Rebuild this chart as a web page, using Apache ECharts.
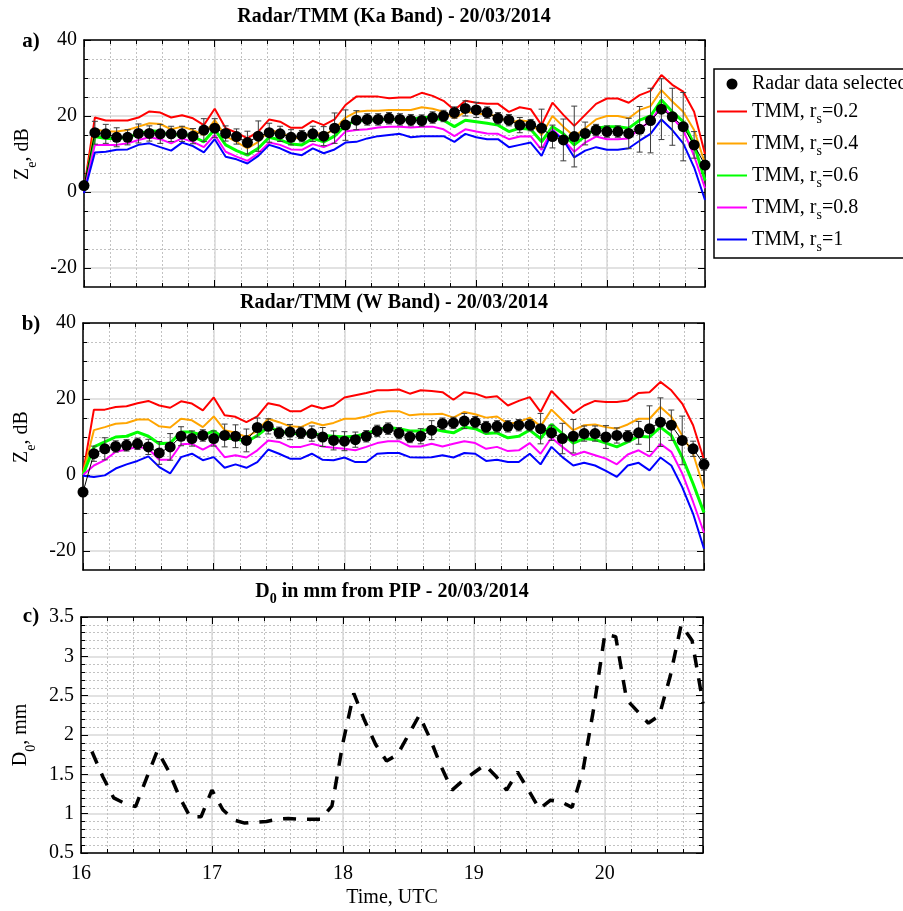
<!DOCTYPE html>
<html><head><meta charset="utf-8">
<script src="https://cdn.jsdelivr.net/npm/echarts@6/dist/echarts.min.js"></script>
<style>html,body{margin:0;padding:0;background:#fff}#c{width:903px;height:911px}</style>
</head><body><div id="c"></div>
<script>
// ---------------- DATA ----------------
const times = [
 '16:00','16:05','16:10','16:15','16:20','16:25','16:30','16:35','16:40','16:45','16:50','16:55',
 '17:00','17:05','17:10','17:15','17:20','17:25','17:30','17:35','17:40','17:45','17:50','17:55',
 '18:00','18:05','18:10','18:15','18:20','18:25','18:30','18:35','18:40','18:45','18:50','18:55',
 '19:00','19:05','19:10','19:15','19:20','19:25','19:30','19:35','19:40','19:45','19:50','19:55',
 '20:00','20:05','20:10','20:15','20:20','20:25','20:30','20:35','20:40','20:45'
];
const rsValues = ['0.2','0.4','0.6','0.8','1'];

// Panel a) Ka band
const kaRadar = [
 1.7, 15.6, 15.3, 14.4, 14.4, 15.4, 15.4, 15.3, 15.3, 15.3, 14.7, 16.3,
 16.8, 15.4, 14.6, 13.0, 14.7, 15.6, 15.3, 14.4, 14.7, 15.3, 14.7, 16.8,
 17.6, 18.9, 19.1, 19.1, 19.4, 19.1, 18.9, 18.8, 19.6, 20.0, 20.9, 22.0,
 21.6, 20.9, 19.4, 18.9, 17.6, 17.6, 16.8, 14.6, 13.7, 14.6, 15.4, 16.3,
 15.9, 15.9, 15.4, 16.5, 18.8, 21.8, 19.8, 17.2, 12.4, 7.1
];
const kaErr = [
 0.5, 3.0, 2.5, 2.5, 2.0, 2.5, 2.0, 2.5, 2.0, 2.0, 2.0, 3.0,
 2.5, 2.0, 2.0, 3.0, 4.0, 2.5, 2.0, 2.0, 1.5, 2.0, 2.5, 4.0,
 4.0, 2.5, 1.5, 1.5, 1.5, 1.5, 1.5, 1.5, 1.5, 1.5, 1.5, 2.0,
 2.0, 1.5, 1.5, 1.5, 2.0, 1.5, 5.0, 3.0, 5.5, 8.0, 3.0, 1.5,
 1.5, 1.5, 4.0, 6.0, 8.5, 8.0, 7.5, 9.0, 3.5, 1.0
];
const kaR02 = [
 0.8, 19.6, 18.8, 18.8, 18.8, 19.6, 21.2, 20.9, 19.6, 20.2, 19.4, 17.6,
 21.9, 16.8, 15.6, 14.1, 15.9, 19.1, 18.5, 16.9, 16.9, 18.7, 17.6, 19.1,
 22.9, 25.1, 25.1, 25.1, 24.7, 24.9, 24.9, 26.1, 25.3, 24.0, 21.6, 24.0,
 23.5, 23.2, 23.2, 21.1, 22.3, 21.8, 17.6, 23.5, 20.3, 17.4, 20.3, 23.2,
 24.6, 24.6, 23.5, 25.5, 26.6, 30.8, 28.2, 26.4, 21.1, 10.0
];
const kaR04 = [
 0.5, 16.5, 15.9, 15.9, 16.3, 17.2, 18.1, 17.9, 16.5, 17.2, 16.3, 15.0,
 18.9, 14.7, 13.2, 11.5, 13.2, 16.3, 15.6, 14.4, 14.1, 15.9, 15.0, 16.5,
 19.6, 21.1, 21.4, 21.4, 21.6, 21.6, 21.6, 22.3, 21.9, 21.1, 19.4, 21.1,
 20.7, 20.3, 20.0, 18.1, 18.9, 18.5, 15.0, 20.0, 17.2, 14.6, 16.8, 19.1,
 20.0, 20.0, 19.4, 21.6, 22.6, 26.8, 23.8, 21.1, 16.3, 7.5
];
const kaR06 = [
 0.3, 14.6, 14.1, 14.1, 14.4, 15.3, 16.1, 15.9, 14.7, 15.4, 14.6, 13.2,
 16.5, 12.4, 10.9, 9.7, 11.5, 14.4, 13.7, 12.6, 12.4, 14.1, 13.2, 14.7,
 17.6, 18.8, 18.9, 19.1, 19.1, 19.1, 19.1, 19.6, 19.6, 18.9, 17.2, 18.9,
 18.5, 18.1, 17.6, 15.9, 16.8, 16.5, 13.2, 17.2, 15.3, 12.4, 14.7, 16.8,
 17.2, 17.2, 16.8, 18.9, 20.0, 24.2, 21.1, 18.5, 12.5, 3.0
];
const kaR08 = [
 0.1, 12.4, 12.4, 12.4, 12.8, 13.7, 14.4, 13.9, 12.8, 14.1, 13.2, 11.8,
 15.0, 10.6, 9.3, 8.2, 10.2, 13.0, 12.4, 11.2, 11.1, 12.6, 11.8, 13.0,
 15.9, 16.3, 16.5, 17.0, 17.2, 17.2, 17.0, 17.2, 17.2, 16.5, 14.7, 16.5,
 15.9, 15.4, 15.3, 13.9, 14.6, 14.7, 11.1, 16.5, 13.7, 10.6, 13.0, 14.6,
 13.9, 13.9, 14.1, 16.8, 18.5, 22.9, 19.6, 16.3, 9.5, 1.0
];
const kaR1 = [
 -0.3, 10.4, 10.6, 11.1, 11.2, 12.4, 12.8, 11.8, 10.9, 13.0, 12.1, 10.4,
 13.9, 9.3, 8.6, 7.5, 9.5, 12.4, 11.5, 10.2, 9.7, 11.5, 10.2, 11.2,
 13.0, 13.2, 14.1, 14.7, 15.0, 15.3, 14.4, 14.7, 14.7, 14.7, 13.2, 15.3,
 14.4, 13.9, 13.9, 11.8, 12.4, 13.0, 9.5, 16.1, 13.7, 9.1, 10.9, 11.8,
 11.1, 11.1, 11.5, 13.5, 15.3, 19.1, 16.3, 12.8, 6.5, -2.1
];

// Panel b) W band
const wRadar = [
 -4.5, 5.6, 6.9, 7.5, 7.8, 8.2, 7.4, 5.8, 7.4, 10.2, 9.6, 10.4,
 9.6, 10.4, 10.2, 9.1, 12.5, 12.8, 11.1, 11.3, 11.1, 10.9, 10.0, 9.1,
 8.9, 9.3, 10.2, 11.6, 12.2, 11.0, 10.0, 10.2, 11.8, 13.5, 13.7, 14.2,
 13.9, 12.6, 12.8, 12.8, 13.1, 13.1, 12.2, 11.1, 9.6, 10.2, 10.9, 10.9,
 10.0, 10.4, 10.2, 11.1, 12.2, 13.9, 13.1, 9.1, 6.9, 2.8
];
const wErr = [
 1.0, 2.0, 2.9, 1.5, 1.5, 1.5, 2.0, 3.0, 3.5, 2.5, 2.0, 1.5,
 2.0, 3.0, 3.0, 3.0, 2.5, 2.0, 1.5, 2.0, 1.5, 2.0, 2.5, 2.5,
 2.5, 2.0, 1.5, 1.5, 1.5, 1.5, 1.5, 2.0, 2.5, 1.5, 1.5, 2.0,
 1.5, 1.5, 1.5, 1.5, 1.5, 1.5, 4.0, 2.0, 4.0, 4.4, 2.0, 2.0,
 3.0, 2.0, 1.5, 3.0, 6.0, 6.4, 4.0, 6.4, 2.0, 1.5
];
const wR02 = [
 0.5, 17.2, 17.2, 17.9, 18.1, 18.9, 19.5, 18.3, 17.7, 19.4, 18.8, 17.0,
 20.4, 15.7, 15.3, 13.9, 15.4, 18.9, 18.3, 16.8, 16.8, 18.3, 17.5, 18.3,
 20.4, 21.0, 21.6, 22.3, 22.3, 22.5, 21.4, 22.3, 22.1, 21.8, 19.8, 21.8,
 21.4, 20.4, 20.7, 18.3, 19.5, 20.5, 16.6, 22.1, 19.2, 16.3, 18.3, 19.5,
 19.2, 19.2, 19.6, 21.6, 21.8, 24.5, 22.3, 18.8, 13.1, 4.0
];
const wR04 = [
 0.3, 11.8, 12.6, 13.5, 13.7, 14.6, 14.6, 12.8, 12.5, 14.8, 14.4, 12.6,
 15.4, 11.8, 11.1, 10.0, 11.6, 14.8, 13.9, 12.8, 12.6, 13.9, 13.1, 13.7,
 14.8, 14.8, 15.4, 16.3, 16.8, 16.8, 15.7, 16.0, 16.0, 16.1, 15.1, 16.6,
 16.0, 15.1, 15.4, 13.5, 13.9, 15.1, 12.8, 17.2, 14.4, 11.8, 13.1, 13.3,
 12.6, 12.2, 13.3, 14.8, 14.8, 17.9, 15.3, 10.4, 5.6, -3.6
];
const wR06 = [
 0.0, 7.4, 8.7, 10.0, 10.2, 11.3, 10.2, 8.2, 8.4, 11.3, 11.3, 10.4,
 11.6, 9.6, 9.6, 8.7, 10.4, 12.6, 11.6, 10.9, 10.9, 10.9, 10.4, 10.2,
 10.0, 10.2, 10.9, 11.9, 12.5, 12.2, 11.6, 11.6, 12.2, 11.6, 11.1, 12.6,
 12.2, 10.9, 11.1, 9.8, 10.2, 11.8, 9.6, 13.3, 10.9, 8.4, 9.6, 9.3,
 8.4, 7.4, 8.7, 10.2, 10.0, 12.6, 10.4, 4.7, -2.3, -9.9
];
const wR08 = [
 0.0, 2.5, 3.9, 6.1, 6.7, 7.4, 6.9, 4.0, 4.0, 8.1, 8.2, 6.7,
 8.2, 4.7, 5.2, 4.6, 6.5, 9.1, 8.7, 7.4, 7.4, 8.2, 7.5, 7.2,
 6.9, 6.5, 7.4, 8.4, 8.9, 8.9, 7.5, 7.5, 8.2, 7.5, 8.2, 8.9,
 8.4, 6.9, 7.4, 6.3, 6.5, 8.4, 5.6, 9.8, 7.4, 5.2, 6.1, 5.2,
 4.3, 2.8, 5.4, 6.5, 4.9, 8.2, 6.1, 0.4, -7.1, -15.2
];
const wR1 = [
 -0.2, -0.5, -0.1, 1.7, 2.8, 3.7, 4.9, 2.1, 0.4, 4.7, 5.6, 3.9,
 4.7, 1.9, 2.8, 1.9, 3.4, 6.7, 5.6, 4.3, 4.3, 5.6, 4.0, 3.9,
 4.6, 3.4, 3.4, 5.6, 5.8, 5.8, 4.7, 4.6, 4.7, 5.2, 4.6, 5.8,
 5.6, 3.7, 4.0, 3.4, 3.4, 5.6, 2.8, 7.4, 4.7, 2.5, 3.2, 2.5,
 1.1, -0.5, 2.5, 3.2, 1.2, 4.6, 2.5, -3.2, -10.2, -19.4
];

// Panel c) D0 from PIP (mm)
const d0 = [
 null, 1.79, 1.47, 1.2, 1.13, 1.09, 1.45, 1.8, 1.55, 1.22, 0.96, 0.96,
 1.3, 1.05, 0.92, 0.88, 0.89, 0.9, 0.93, 0.94, 0.93, 0.93, 0.93, 1.1,
 1.9, 2.53, 2.18, 1.88, 1.67, 1.75, 2.0, 2.25, 1.95, 1.6, 1.3, 1.42,
 1.52, 1.62, 1.48, 1.3, 1.53, 1.3, 1.06, 1.17, 1.15, 1.08, 1.55, 2.35,
 3.28, 3.25, 2.45, 2.3, 2.15, 2.25, 2.75, 3.4, 3.2, 2.4
];

// ---------------- CHART ----------------
const FONT = 'Liberation Serif';
const GRID_COLOR = '#d8d8d8';
const DOT_COLOR = '#c2c2c2';
const tmmColors = ['#ff0000', '#ffa500', '#00ff00', '#ff00ff', '#0000ff'];
const tmmWidths = [2, 2, 3, 2, 2];
const tmmNames = rsValues.map(v => 'TMM, rs=' + v);
const radarName = 'Radar data selected';

const tHours = times.map(s => { const p = s.split(':').map(Number); return p[0] + p[1] / 60; });
const pairs = arr => tHours.map((t, i) => [t, arr[i]]);

const black = { color: '#000', width: 1 };
const subRich = {
  n: { fontFamily: FONT, fontSize: 20, color: '#000', lineHeight: 22, verticalAlign: 'top' },
  s: { fontFamily: FONT, fontSize: 14, color: '#000', padding: [13, 0, 0, 0], verticalAlign: 'top' }
};

function xAxesFor(gridIndex, withLabels) {
  const base = { type: 'value', gridIndex, min: 16, max: 20.75 };
  return [
    Object.assign({}, base, {
      position: 'bottom', interval: 0.2,
      axisLine: { show: true, onZero: false, lineStyle: { color: '#000', width: 1.5 } },
      axisTick: { show: true, inside: true, length: 4, lineStyle: black },
      splitLine: { show: true, lineStyle: { color: DOT_COLOR, type: [2, 2], width: 1 } },
      axisLabel: {
        show: withLabels, margin: 11, fontFamily: FONT, fontSize: 20, color: '#000',
        formatter: v => Math.abs(v - Math.round(v)) < 1e-6 ? String(Math.round(v)) : ''
      },
      name: withLabels ? 'Time, UTC' : '', nameLocation: 'middle', nameGap: 35,
      nameTextStyle: { fontFamily: FONT, fontSize: 20, color: '#000' }
    }),
    Object.assign({}, base, {
      position: 'bottom', interval: 1,
      axisLine: { show: false, onZero: false },
      axisTick: { show: true, inside: true, length: 7, lineStyle: black },
      splitLine: { show: true, lineStyle: { color: GRID_COLOR, width: 1.5 } },
      axisLabel: { show: false }
    }),
    Object.assign({}, base, {
      position: 'top', interval: 0.2,
      axisLine: { show: true, onZero: false, lineStyle: { color: '#000', width: 1.5 } },
      axisTick: { show: true, inside: true, length: 4, lineStyle: black },
      splitLine: { show: false }, axisLabel: { show: false }
    }),
    Object.assign({}, base, {
      position: 'top', interval: 1,
      axisLine: { show: false, onZero: false },
      axisTick: { show: true, inside: true, length: 7, lineStyle: black },
      splitLine: { show: false }, axisLabel: { show: false }
    })
  ];
}
function hiddenX(gridIndex) {
  return { type: 'value', gridIndex, min: 16, max: 20.75, show: false, splitLine: { show: false } };
}
function boxY(gridIndex, min, max) {
  const b = { type: 'value', gridIndex, min, max,
    axisLine: { show: true, onZero: false, lineStyle: { color: '#000', width: 1.5 } },
    axisTick: { show: false }, axisLabel: { show: false }, splitLine: { show: false } };
  return [Object.assign({ position: 'left' }, b), Object.assign({ position: 'right' }, b)];
}
function scaleY(gridIndex, min, max, interval, minorSplit, name) {
  const left = {
    type: 'value', gridIndex, position: 'left', min, max, interval,
    axisLine: { show: false, onZero: false },
    axisTick: { show: true, inside: true, length: 7, lineStyle: black },
    minorTick: { show: true, splitNumber: minorSplit, length: 4, lineStyle: black },
    splitLine: { show: true, lineStyle: { color: GRID_COLOR, width: 1.5 } },
    minorSplitLine: { show: true, lineStyle: { color: DOT_COLOR, type: [2, 2], width: 1 } },
    axisLabel: { margin: 7, fontFamily: FONT, fontSize: 20, color: '#000' },
    name, nameLocation: 'middle', nameGap: 43, nameRotate: 90,
    nameTextStyle: { rich: subRich }
  };
  const right = {
    type: 'value', gridIndex, position: 'right', min, max, interval,
    axisLine: { show: false, onZero: false },
    axisTick: { show: true, inside: true, length: 7, lineStyle: black },
    minorTick: { show: true, splitNumber: minorSplit, length: 4, lineStyle: black },
    splitLine: { show: false }, minorSplitLine: { show: false }, axisLabel: { show: false }
  };
  return [left, right];
}

const grids = [
  { left: 84, top: 40, width: 621, height: 247 },   // 0 a main
  { left: 84, top: 40, width: 621, height: 228 },   // 1 a scale (-20..40)
  { left: 83, top: 323, width: 621, height: 247 },  // 2 b main
  { left: 83, top: 323, width: 621, height: 228 },  // 3 b scale
  { left: 81, top: 617, width: 622, height: 236 }   // 4 c
];

const xAxes = [].concat(
  xAxesFor(0, false),   // 0..3
  [hiddenX(1)],         // 4
  xAxesFor(2, false),   // 5..8
  [hiddenX(3)],         // 9
  xAxesFor(4, true)     // 10..13
);
const zName = '{n|Z}{s|e}{n|, dB}';
const yAxes = [].concat(
  boxY(0, -25, 40),                       // 0,1
  scaleY(1, -20, 40, 20, 4, zName),       // 2,3
  boxY(2, -25, 40),                       // 4,5
  scaleY(3, -20, 40, 20, 4, zName),       // 6,7
  (function () {                          // 8,9
    const ax = scaleY(4, 0.5, 3.5, 0.5, 5, '{n|D}{s|0}{n|, mm}');
    ax[0].axisLine = { show: true, onZero: false, lineStyle: { color: '#000', width: 1.5 } };
    ax[1].axisLine = { show: true, onZero: false, lineStyle: { color: '#000', width: 1.5 } };
    return ax;
  })()
);

function errorBars(xi, yi, vals, errs) {
  return {
    type: 'custom', xAxisIndex: xi, yAxisIndex: yi, silent: true, z: 3,
    data: tHours.map((t, i) => [t, vals[i] - errs[i], vals[i] + errs[i]]),
    encode: { x: 0, y: [1, 2] },
    renderItem: function (params, api) {
      const x = api.value(0);
      const lo = api.coord([x, api.value(1)]);
      const hi = api.coord([x, api.value(2)]);
      const w = 3;
      const st = { stroke: '#3c3c3c', lineWidth: 1 };
      return { type: 'group', children: [
        { type: 'line', shape: { x1: lo[0], y1: lo[1], x2: hi[0], y2: hi[1] }, style: st },
        { type: 'line', shape: { x1: lo[0] - w, y1: lo[1], x2: lo[0] + w, y2: lo[1] }, style: st },
        { type: 'line', shape: { x1: hi[0] - w, y1: hi[1], x2: hi[0] + w, y2: hi[1] }, style: st }
      ] };
    }
  };
}
function panelSeries(xi, yi, tmmArrays, radar, errs) {
  const s = tmmArrays.map((arr, k) => ({
    type: 'line', name: tmmNames[k], xAxisIndex: xi, yAxisIndex: yi,
    data: pairs(arr), symbol: 'none', z: 2,
    lineStyle: { color: tmmColors[k], width: tmmWidths[k] },
    itemStyle: { color: tmmColors[k], opacity: 0 }
  }));
  s.push(errorBars(xi, yi, radar, errs));
  s.push({
    type: 'line', name: radarName, xAxisIndex: xi, yAxisIndex: yi, z: 4,
    data: pairs(radar), symbol: 'circle', symbolSize: 11,
    lineStyle: { color: '#000', width: 1 }, itemStyle: { color: '#000' }
  });
  return s;
}

const series = [].concat(
  panelSeries(0, 0, [kaR02, kaR04, kaR06, kaR08, kaR1], kaRadar, kaErr),
  panelSeries(5, 4, [wR02, wR04, wR06, wR08, wR1], wRadar, wErr),
  [{
    type: 'line', name: 'D0', xAxisIndex: 10, yAxisIndex: 8, data: pairs(d0),
    symbol: 'none', connectNulls: false,
    lineStyle: { color: '#000', width: 3.5, type: [13, 11], cap: 'butt' }
  }]
);

const titleFont = 'bold 20px "Liberation Serif"';
const chart = echarts.init(document.getElementById('c'), null, { renderer: 'canvas' });
chart.setOption({
  animation: false,
  backgroundColor: '#fff',
  grid: grids,
  xAxis: xAxes,
  yAxis: yAxes,
  series,
  legend: {
    orient: 'vertical', left: 714, top: 69,
    padding: [5, 8, 4, 2], itemGap: 3,
    itemWidth: 30, itemHeight: 11,
    borderColor: '#000', borderWidth: 1.5, backgroundColor: '#fff',
    textStyle: { fontFamily: FONT, fontSize: 20, color: '#000',
      rich: {
        r: { fontFamily: FONT, fontSize: 20, color: '#000', lineHeight: 20 },
        n: { fontFamily: FONT, fontSize: 20, color: '#000', lineHeight: 20, padding: [5, 0, 0, 0], verticalAlign: 'top' },
        s: { fontFamily: FONT, fontSize: 14, color: '#000', padding: [15, 0, 0, 0], verticalAlign: 'top' }
      } },
    formatter: function (name) {
      if (name === radarName) return '{r|' + name + '}';
      const v = name.split('=')[1];
      return '{n|TMM, r}{s|s}{n|=' + v + '}';
    },
    data: [{ name: radarName, icon: 'circle' }].concat(
      tmmNames.map(n => ({ name: n, itemStyle: { opacity: 0 } })))
  },
  graphic: [
    { type: 'text', x: 394, y: 17, style: { text: 'Radar/TMM (Ka Band) - 20/03/2014', font: titleFont, fill: '#000', align: 'center', verticalAlign: 'middle' } },
    { type: 'text', x: 394, y: 303, style: { text: 'Radar/TMM (W Band) - 20/03/2014', font: titleFont, fill: '#000', align: 'center', verticalAlign: 'middle' } },
    { type: 'text', x: 392, y: 582, style: {
        text: '{b|D}{bs|0}{b| in mm from PIP - 20/03/2014}', align: 'center', verticalAlign: 'top',
        rich: {
          b: { font: titleFont, fill: '#000', lineHeight: 20, verticalAlign: 'top' },
          bs: { font: 'bold 14px "Liberation Serif"', fill: '#000', padding: [10, 0, 0, 0], verticalAlign: 'top' }
        } } },
    { type: 'text', x: 31, y: 42, style: { text: 'a)', font: 'bold 21px "Liberation Serif"', fill: '#000', align: 'center', verticalAlign: 'middle' } },
    { type: 'text', x: 31, y: 325, style: { text: 'b)', font: 'bold 21px "Liberation Serif"', fill: '#000', align: 'center', verticalAlign: 'middle' } },
    { type: 'text', x: 31, y: 617, style: { text: 'c)', font: 'bold 21px "Liberation Serif"', fill: '#000', align: 'center', verticalAlign: 'middle' } }
  ]
});
</script>
</body></html>
